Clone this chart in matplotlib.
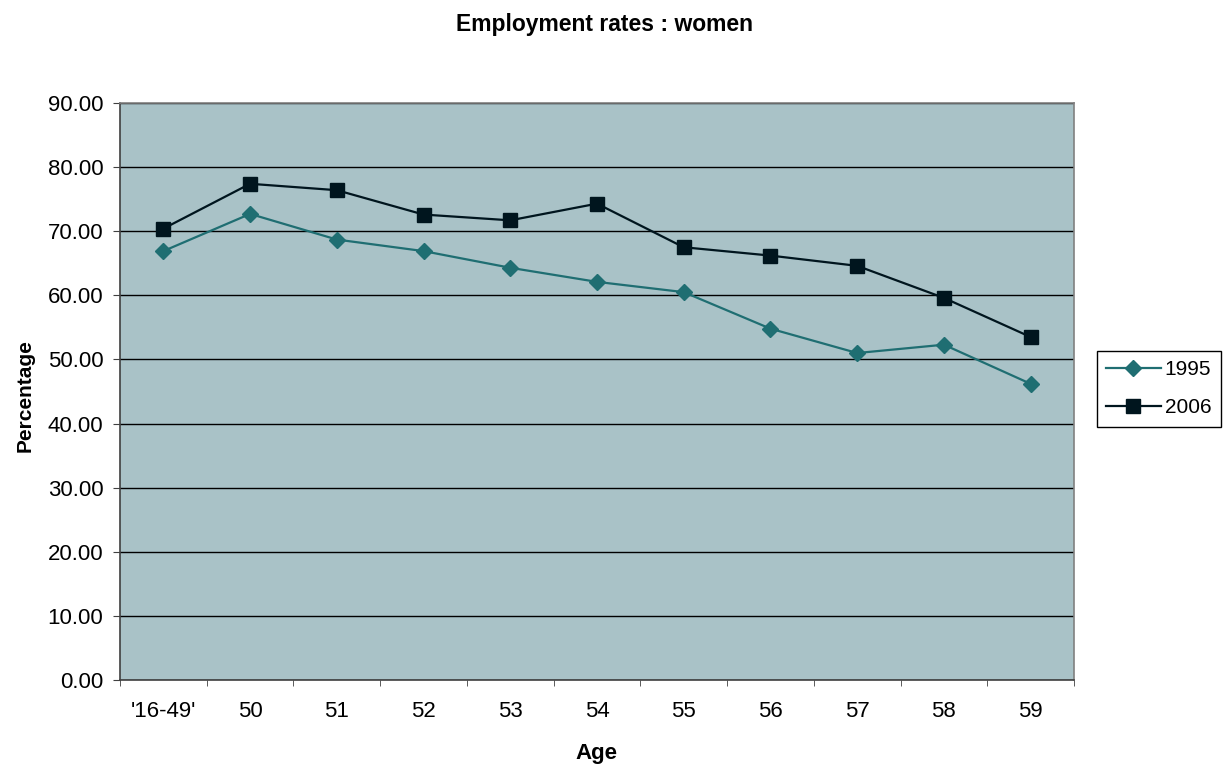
import matplotlib
matplotlib.use("Agg")
import matplotlib.pyplot as plt
import numpy as np

categories = ["'16-49'", "50", "51", "52", "53", "54", "55", "56", "57", "58", "59"]
y1995 = [66.9, 72.7, 68.7, 66.9, 64.3, 62.1, 60.5, 54.8, 51.0, 52.3, 46.2]
y2006 = [70.4, 77.4, 76.4, 72.6, 71.7, 74.3, 67.5, 66.2, 64.6, 59.6, 53.5]
yticks = [0, 10, 20, 30, 40, 50, 60, 70, 80, 90]

plt.rcParams['font.family'] = ['Liberation Sans', 'DejaVu Sans']

fig = plt.figure(figsize=(12.25, 7.67), dpi=100)
ax = fig.add_axes([120/1225, 1-680/767, (1074-120)/1225, (680-103)/767])
ax.set_facecolor('#A9C2C7')

x = np.arange(len(categories))
ax.plot(x, y1995, color='#1F6E72', lw=1.6, marker='D', ms=8, mec='#1F6E72', label='1995', zorder=3)
ax.plot(x, y2006, color='#00151E', lw=1.6, marker='s', ms=10, mec='#00151E', label='2006', zorder=4)

ax.set_xlim(-0.5, len(categories)-0.5)
ax.set_ylim(0, 90)
ax.set_yticks(yticks)
ax.set_yticklabels([f"{v:.2f}" for v in yticks], fontsize=16)
ax.set_xticks(x)
ax.set_xticklabels(categories, fontsize=16)
ax.set_xticks(np.arange(-0.5, len(categories), 1), minor=True)
ax.tick_params(axis='x', which='major', length=0, pad=15)
ax.tick_params(axis='x', which='minor', length=4, direction='out', color='#404040')
ax.tick_params(axis='y', length=5, direction='out', color='#404040', pad=7)
ax.grid(axis='y', color='black', lw=1)
ax.set_axisbelow(True)
for side in ['top', 'right']:
    ax.spines[side].set_color('#808080')
    ax.spines[side].set_linewidth(1.2)
for side in ['left', 'bottom']:
    ax.spines[side].set_color('#404040')
    ax.spines[side].set_linewidth(1.2)

fig.text(604/1225, 1-25/767, 'Employment rates : women', ha='center', va='center',
         fontsize=16.5, fontweight='bold')
fig.text(25/1225, 1-396/767, 'Percentage', rotation=90, ha='center', va='center',
         fontsize=15, fontweight='bold')
fig.text(596/1225, 1-753/767, 'Age', ha='center', va='center',
         fontsize=16, fontweight='bold')

leg = ax.legend(loc='upper left', bbox_to_anchor=(1097/1225, 1-351/767),
                bbox_transform=fig.transFigure, borderaxespad=0, fontsize=15, frameon=True,
                fancybox=False, edgecolor='black', framealpha=1,
                handlelength=2.6, borderpad=0.45, labelspacing=0.9, handletextpad=0.2)
leg.get_frame().set_linewidth(1)

fig.savefig('out.png', dpi=100, facecolor='white')
